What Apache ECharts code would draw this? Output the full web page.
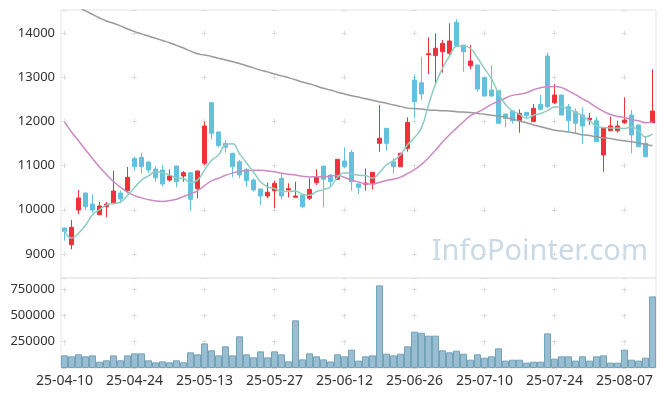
<!DOCTYPE html>
<html><head><meta charset="utf-8">
<script src="https://cdn.jsdelivr.net/npm/echarts@6/dist/echarts.min.js"></script>
<style>html,body{margin:0;padding:0;background:#fff}#c{width:665px;height:396px}</style>
</head><body><div id="c"></div>
<script>
const dates = ['25-04-10','25-04-11','25-04-14','25-04-15','25-04-16','25-04-17','25-04-18','25-04-21','25-04-22','25-04-23',
'25-04-24','25-04-25','25-04-28','25-04-29','25-04-30','25-05-02','25-05-07','25-05-08','25-05-09','25-05-12',
'25-05-13','25-05-14','25-05-15','25-05-16','25-05-19','25-05-20','25-05-21','25-05-22','25-05-23','25-05-26',
'25-05-27','25-05-28','25-05-29','25-05-30','25-06-02','25-06-04','25-06-05','25-06-09','25-06-10','25-06-11',
'25-06-12','25-06-13','25-06-16','25-06-17','25-06-18','25-06-19','25-06-20','25-06-23','25-06-24','25-06-25',
'25-06-26','25-06-27','25-06-30','25-07-01','25-07-02','25-07-03','25-07-04','25-07-07','25-07-08','25-07-09',
'25-07-10','25-07-11','25-07-14','25-07-15','25-07-16','25-07-17','25-07-18','25-07-21','25-07-22','25-07-23',
'25-07-24','25-07-25','25-07-28','25-07-29','25-07-30','25-07-31','25-08-01','25-08-04','25-08-05','25-08-06',
'25-08-07','25-08-08','25-08-11','25-08-12','25-08-13'];

const opens = [9588,9210,9995,10380,10131,9889,10070,10160,10380,10432,
11165,11188,11081,10922,10900,10674,10990,10764,10839,10477,
11052,12422,11760,11504,11278,11088,10915,10674,10470,10312,
10432,10712,10448,10282,10335,10260,10613,10990,10787,10689,
11104,11300,10584,10577,10599,11504,11843,11088,10975,11391,
12936,12876,13510,13488,13576,13540,14241,13727,13259,13275,
12995,12710,12694,12167,12235,12015,12205,11995,12386,13478,
12423,12597,12332,12220,12144,12031,12015,11239,11789,11789,
11970,12144,11918,11504,11970];
const closes = [9513,9604,10267,10070,9995,10086,10131,10425,10244,10735,
10975,10975,10900,10726,10583,10764,10636,10839,10237,10877,
11896,11730,11450,11413,10975,10787,10658,10448,10312,10396,
10599,10312,10477,10312,10070,10463,10749,10689,10636,11142,
10975,10636,10509,10606,10847,11617,11504,10975,11278,11979,
12445,12619,13531,13655,13766,13818,13712,13576,13366,12732,
12573,12574,11956,12070,12015,12183,12130,12296,12273,12332,
12597,12144,12015,11956,11895,12070,11541,11843,11896,11896,
12031,11692,11427,11201,12235];
const lows = [9300,9106,9905,9995,9934,9880,9830,10124,10147,10373,
10884,10825,10840,10636,10522,10636,10509,10636,9980,10260,
11013,11594,11413,11291,10735,10712,10522,10410,10108,10260,
10034,10237,10282,10282,10034,10222,10561,10056,10509,10674,
10937,10432,10357,10432,10463,11314,11336,10825,10975,11314,
12070,12483,13072,12861,13101,13500,13705,13124,13178,12672,
12560,12560,11950,11866,11950,11744,12070,11990,12257,12296,
12393,12140,11768,11715,11488,11918,11530,10861,11789,11744,
11940,11278,11420,11201,11970];
const highs = [9600,9769,10448,10390,10357,10176,10176,10884,10432,10968,
11201,11291,11090,10990,11013,10915,10995,10878,10845,10890,
11993,12440,11770,11578,11290,11126,10937,10712,10480,10613,
10658,10825,10599,10636,10340,10712,10915,10995,10800,11150,
11413,11352,10600,10937,10850,12370,11850,11165,11290,12092,
13049,13463,13902,13992,13841,14218,14309,13730,13727,13280,
13000,13275,12700,12170,12240,12273,12210,12393,12597,13553,
12845,12600,12393,12296,12318,12190,12100,11843,12106,12015,
12545,12257,11920,11669,13178];
const volumes = [120000,111000,130000,111000,120000,60000,73000,120000,73000,120000,
139000,139000,73000,54000,63000,54000,73000,54000,149000,130000,
234000,168000,120000,206000,120000,301000,130000,101000,158000,101000,
158000,130000,63000,453000,82000,139000,111000,82000,62000,130000,
111000,174000,70000,111000,120000,785000,136000,120000,136000,206000,
345000,335000,307000,307000,168000,149000,165000,136000,79000,130000,
98000,111000,187000,70000,79000,79000,51000,60000,60000,329000,
89000,111000,111000,70000,111000,70000,111000,120000,51000,51000,
174000,79000,70000,98000,680000];
// moving-average values before enough in-window closes exist
const ma5Head = [9540,9360,9470,9650];
const ma20Head = [11990,11760,11560,11360,11160,10970,10800,10640,10510,10400,
10320,10270,10230,10200,10190,10210,10240,10300,10360];
// long-period moving average (grey)
const maLong = [14760,14680,14590,14500,14420,14340,14270,14220,14160,14090,
14030,13980,13930,13880,13830,13780,13720,13660,13590,13530,
13500,13470,13430,13390,13350,13310,13260,13210,13160,13120,
13070,13030,12990,12940,12890,12850,12800,12750,12710,12660,
12620,12580,12550,12510,12480,12440,12410,12370,12340,12300,
12290,12280,12260,12250,12240,12235,12220,12210,12200,12180,
12160,12140,12120,12090,12050,12010,11970,11920,11880,11840,
11800,11780,11760,11730,11700,11680,11650,11630,11610,11580,
11560,11540,11510,11480,11450];

function movingAvg(n, head) {
  return closes.map((c, i) => {
    if (i < n - 1) return head[i];
    let s = 0; for (let k = i - n + 1; k <= i; k++) s += closes[k];
    return Math.round(s / n);
  });
}
const ma5 = movingAvg(5, ma5Head);
const ma20 = movingAvg(20, ma20Head);
const candles = dates.map((d, i) => [opens[i], closes[i], lows[i], highs[i]]);

const UP = '#ee3239', DOWN = '#64c1dd';
const FONT = 'Noto Sans';
const crossColor = '#dcdcdc';
const plain = v => String(Math.round(v));
const chart = echarts.init(document.getElementById('c'), null, {renderer: 'canvas'});
chart.setOption({
  animation: false,
  backgroundColor: '#fff',
  grid: [
    {left: 61, top: 10, width: 595, height: 268, show: true, borderColor: '#e6e6e6', borderWidth: 1, backgroundColor: 'transparent'},
    {left: 61, top: 278, width: 595, height: 90, show: true, borderColor: '#e6e6e6', borderWidth: 1, backgroundColor: 'transparent'}
  ],
  xAxis: [
    {type: 'category', gridIndex: 0, data: dates, boundaryGap: true,
     axisLine: {show: false}, axisTick: {show: false}, axisLabel: {show: false},
     splitLine: {show: true, interval: 9, alignWithLabel: true,
       lineStyle: {color: crossColor, width: 1, type: [5, 39.2], dashOffset: 23.7}}},
    {type: 'category', gridIndex: 1, data: dates, boundaryGap: true,
     axisLine: {show: false}, axisTick: {show: false},
     axisLabel: {interval: 9, color: '#333', fontFamily: FONT, fontSize: 14, margin: 6},
     splitLine: {show: true, interval: 9, alignWithLabel: true,
       lineStyle: {color: crossColor, width: 1, type: [5, 21.3], dashOffset: 16.8}}}
  ],
  yAxis: [
    {type: 'value', gridIndex: 0, min: 8457, max: 14520, scale: true,
     axisLine: {show: false}, axisTick: {show: false},
     axisLabel: {color: '#333', fontFamily: FONT, fontSize: 13, margin: 6, formatter: plain, showMinLabel: false, showMaxLabel: false},
     splitLine: {show: true, lineStyle: {color: crossColor, width: 1, type: [5, 65], dashOffset: 69.2}}},
    {type: 'value', gridIndex: 1, min: 0, max: 855000, interval: 250000,
     axisLine: {show: false}, axisTick: {show: false},
     axisLabel: {color: '#333', fontFamily: FONT, fontSize: 13, margin: 6, formatter: plain, showMinLabel: false, showMaxLabel: false},
     splitLine: {show: true, lineStyle: {color: crossColor, width: 1, type: [5, 65], dashOffset: 69.2}}}
  ],
  series: [
    {type: 'candlestick', xAxisIndex: 0, yAxisIndex: 0, data: candles, barWidth: 5,
     itemStyle: {color: UP, color0: DOWN, borderColor: UP, borderColor0: DOWN, borderWidth: 1}},
    {type: 'line', xAxisIndex: 0, yAxisIndex: 0, data: maLong, showSymbol: false, smooth: true,
     lineStyle: {color: '#9a9a9a', width: 1.5}, z: 3},
    {type: 'line', xAxisIndex: 0, yAxisIndex: 0, data: ma20, showSymbol: false, smooth: true,
     lineStyle: {color: '#cc8ac4', width: 1.5}, z: 3},
    {type: 'line', xAxisIndex: 0, yAxisIndex: 0, data: ma5, showSymbol: false, smooth: true,
     lineStyle: {color: '#8fccc0', width: 1.5}, z: 3},
    {type: 'bar', xAxisIndex: 1, yAxisIndex: 1, data: volumes, barCategoryGap: '0%',
     itemStyle: {color: 'rgba(125,172,196,0.78)', borderColor: '#74a3b9', borderWidth: 1}}
  ],
  graphic: [
    {type: 'text', right: 17, top: 237, z: 0, silent: true,
     style: {text: 'InfoPointer.com', fontFamily: FONT, fontSize: 29, fill: '#c9dae6'}}
  ]
});
</script></body></html>
